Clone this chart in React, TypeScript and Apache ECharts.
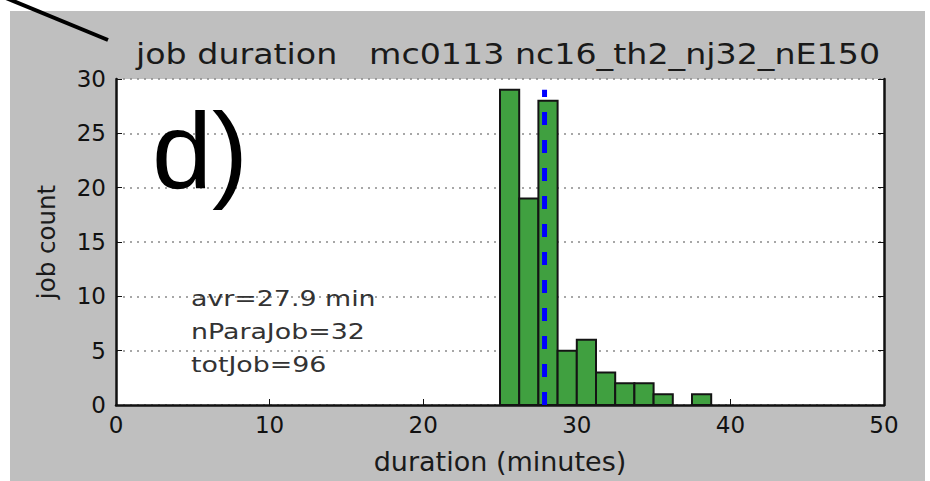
import React, { useEffect, useRef } from "react";
import * as echarts from "echarts";

const titleText = "job duration   mc0113 nc16_th2_nj32_nE150";
const xAxisName = "duration (minutes)";
const yAxisName = "job count";
const panelLabel = "d)";
const binStarts = [25, 26.25, 27.5, 28.75, 30, 31.25, 32.5, 33.75, 35, 36.25, 37.5];
const binWidth = 1.25;
const jobCounts = [29, 19, 28, 5, 6, 3, 2, 2, 1, 0, 1];
const averageMinutes = 27.9;
const averageLineTop = 29;
const statLines = ["avr=27.9 min", "nParaJob=32", "totJob=96"];

export default function App() {
  const ref = useRef<HTMLDivElement>(null);
  useEffect(() => {
    document.body.style.margin = "0";
    const chart = echarts.init(ref.current!, null, { renderer: "svg" });
    const histData = binStarts.map((s, i) => [s, s + binWidth, jobCounts[i]]);
    const font = "DejaVu Sans";
    const option: any = {
      animation: false,
      backgroundColor: "#bfbfbf",
      grid: {
        left: 116,
        right: 46,
        top: 79,
        bottom: 76,
        show: true,
        backgroundColor: "#ffffff",
        borderWidth: 0,
      },
      xAxis: {
        type: "value",
        min: 0,
        max: 50,
        interval: 10,
        name: xAxisName,
        nameLocation: "middle",
        nameGap: 43,
        nameTextStyle: { fontSize: 27, color: "#1a1a1a", fontFamily: font },
        axisLine: { show: true, onZero: false, lineStyle: { color: "#111", width: 2.5 } },
        axisTick: { show: true, inside: true, length: 6, lineStyle: { color: "#111" } },
        axisLabel: { fontSize: 23, color: "#111", fontFamily: font, margin: 8 },
        splitLine: { show: false },
      },
      yAxis: [
        {
          type: "value",
          min: 0,
          max: 30,
          interval: 5,
          name: yAxisName,
          nameLocation: "middle",
          nameGap: 57,
          nameTextStyle: { fontSize: 24.5, color: "#1a1a1a", fontFamily: font },
          axisLine: { show: true, lineStyle: { color: "#111", width: 2.5 } },
          axisTick: { show: true, inside: true, length: 6, lineStyle: { color: "#111" } },
          axisLabel: { fontSize: 23, color: "#111", fontFamily: font, margin: 10 },
          splitLine: { show: true, lineStyle: { color: "#8a8a8a", type: [2, 5], width: 1.5 } },
        },
        {
          type: "value",
          min: 0,
          max: 30,
          interval: 5,
          position: "right",
          axisLine: { show: true, lineStyle: { color: "#111", width: 2.5 } },
          axisTick: { show: true, inside: true, length: 6, lineStyle: { color: "#111" } },
          axisLabel: { show: false },
          splitLine: { show: false },
        },
      ],
      series: [
        {
          type: "custom",
          xAxisIndex: 0,
          yAxisIndex: 0,
          encode: { x: [0, 1], y: 2 },
          data: histData,
          renderItem: (params: any, api: any) => {
            const x0 = api.value(0);
            const x1 = api.value(1);
            const c = api.value(2);
            if (!c) return null;
            const p0 = api.coord([x0, c]);
            const p1 = api.coord([x1, 0]);
            return {
              type: "rect",
              shape: { x: p0[0], y: p0[1], width: p1[0] - p0[0], height: p1[1] - p0[1] },
              style: { fill: "#40a040", stroke: "#141414", lineWidth: 2 },
            };
          },
        },
        {
          type: "line",
          data: [
            [averageMinutes, 0],
            [averageMinutes, averageLineTop],
          ],
          symbol: "none",
          lineStyle: { color: "#0000ff", width: 5, type: [13, 15] },
          z: 5,
        },
      ],
      graphic: [
        { type: "rect", shape: { x: 0, y: 0, width: 930, height: 11 }, style: { fill: "#ffffff" }, silent: true },
        { type: "rect", shape: { x: 0, y: 0, width: 10, height: 481 }, style: { fill: "#ffffff" }, silent: true },
        { type: "rect", shape: { x: 925, y: 0, width: 5, height: 481 }, style: { fill: "#ffffff" }, silent: true },
        {
          type: "line",
          shape: { x1: 6, y1: -2, x2: 108, y2: 40 },
          style: { stroke: "#000", lineWidth: 4 },
          z: 100,
        },
        {
          type: "text",
          x: 136,
          y: 55,
          scaleX: 1.21,
          z: 100,
          style: {
            text: titleText,
            fontSize: 27.5,
            fontFamily: font,
            fill: "#1a1a1a",
            verticalAlign: "middle",
            align: "left",
          },
        },
        {
          type: "text",
          x: 152,
          y: 150,
          z: 100,
          style: {
            text: panelLabel,
            fontSize: 108,
            fontFamily: "Liberation Sans",
            fill: "#000",
            verticalAlign: "middle",
            align: "left",
          },
        },
        ...statLines.map((t, i) => ({
          type: "text",
          x: 191,
          y: 298 + i * 33,
          scaleX: 1.22,
          z: 100,
          style: {
            text: t,
            fontSize: 22,
            fontFamily: font,
            fill: "#333",
            verticalAlign: "middle",
            align: "left",
          },
        })),
      ],
    };
    chart.setOption(option);
    return () => chart.dispose();
  }, []);
  return <div ref={ref} style={{ width: 930, height: 481 }} />;
}
